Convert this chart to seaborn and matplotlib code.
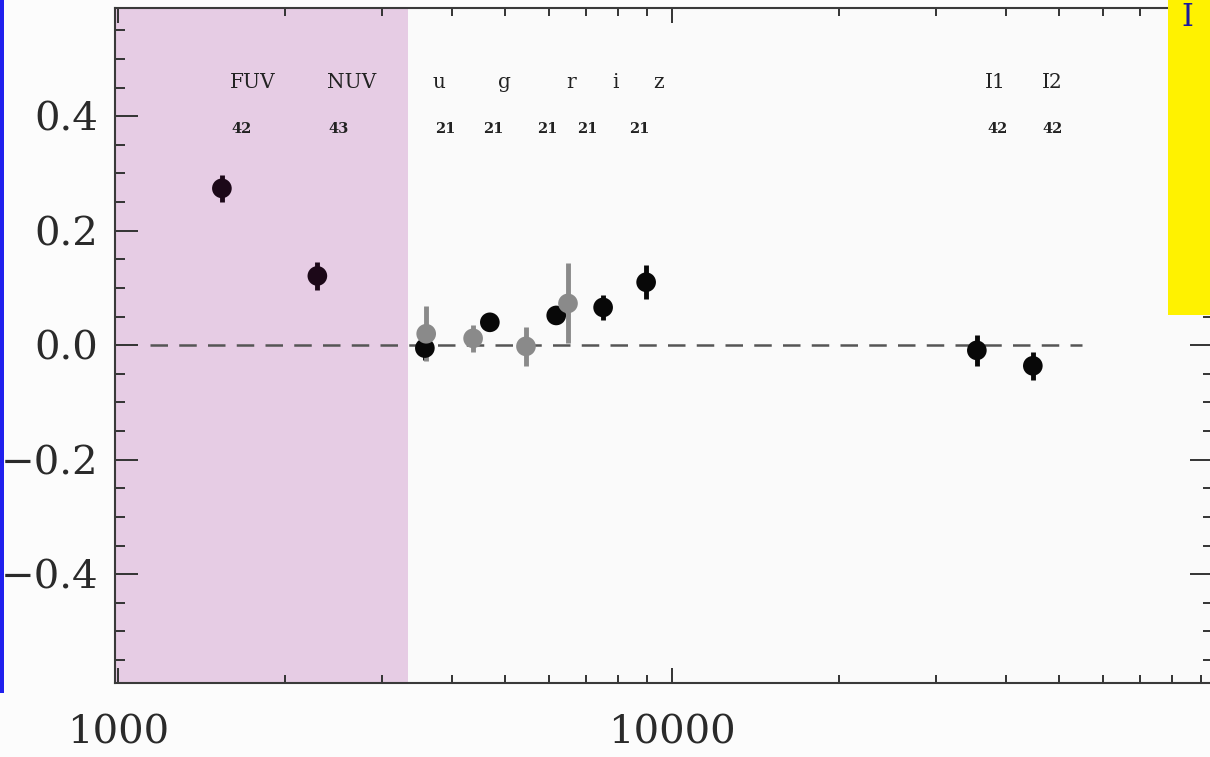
import numpy as np
import pandas as pd
import matplotlib
matplotlib.use("Agg")
import matplotlib.pyplot as plt
import seaborn as sns
from matplotlib.patches import Rectangle
from matplotlib.ticker import LogLocator, FuncFormatter, MultipleLocator

# ── data ────────────────────────────────────────────────────
black_bands = ["FUV", "NUV", "u", "g", "r", "i", "z", "I1", "I2"]
black_wave = [1540, 2290, 3580, 4690, 6180, 7510, 8980, 35500, 44800]
black_off = [0.274, 0.121, -0.005, 0.040, 0.052, 0.066, 0.110, -0.009, -0.036]
black_err = [0.023, 0.025, 0.020, 0.010, 0.015, 0.022, 0.030, 0.027, 0.025]

gray_bands = ["U", "B", "V", "R"]
gray_wave = [3600, 4375, 5450, 6490]
gray_off = [0.020, 0.012, -0.002, 0.073]
gray_err = [0.048, 0.024, 0.034, 0.070]

# band names and number of objects, left edge of each text in wavelength
label_text = ["FUV", "NUV", "u", "g", "r", "i", "z", "I1", "I2"]
label_wave = [1593, 2384, 3703, 4852, 6436, 7794, 9242, 36730, 46560]
count_text = ["42", "43", "21", "21", "21", "21", "21", "42", "42"]
count_wave = [1600, 2394, 3733, 4560, 5705, 6738, 8356, 37040, 46720]

uv_limit = 3340

df = pd.DataFrame({
    "band": black_bands + gray_bands,
    "wave": black_wave + gray_wave,
    "offset": black_off + gray_off,
    "err": black_err + gray_err,
    "set": ["uv"] * 2 + ["black"] * 7 + ["gray"] * 4,
})
colors = {"uv": "#1c0818", "black": "#080808", "gray": "#8a8a8a"}

# ── figure ──────────────────────────────────────────────────
sns.set_style("ticks")
plt.rcParams["font.family"] = ["DejaVu Serif"]

fig = plt.figure(figsize=(12.1, 7.57), dpi=100, facecolor="#fcfcfc")
ax = fig.add_axes([115 / 1210, 1 - 683 / 757, 1098 / 1210, 675 / 757])
ax.set_facecolor("#fafafa")

ax.axvspan(900, uv_limit, color="#e6cce4", lw=0, zorder=0)
ax.hlines(0, 1140, 55000, colors="#555555", lw=1.8,
          linestyles=(0, (7, 4.5)), zorder=1)

for s, sub in df.groupby("set"):
    ax.errorbar(sub["wave"], sub["offset"], yerr=sub["err"], fmt="none",
                ecolor=colors[s], elinewidth=3.5, capsize=0, zorder=2)
sns.scatterplot(data=df, x="wave", y="offset", hue="set", palette=colors,
                s=200, edgecolor="none", legend=False, ax=ax, zorder=3)

for t, w in zip(label_text, label_wave):
    ax.text(w, 0.459, t, ha="left", va="center", fontsize=14.5,
            color="#222222")
for t, w in zip(count_text, count_wave):
    ax.text(w, 0.377, t, ha="left", va="center", fontsize=10.5,
            fontweight="bold", color="#222222")

ax.set_xscale("log")
ax.set_xlim(987.6, 94730)
ax.set_ylim(-0.59, 0.589)
ax.set_xlabel("")
ax.set_ylabel("")

ax.xaxis.set_major_locator(LogLocator(base=10))
ax.xaxis.set_minor_locator(LogLocator(base=10, subs=np.arange(2, 10)))
ax.xaxis.set_major_formatter(FuncFormatter(lambda v, p: f"{v:.0f}"))
ax.xaxis.set_minor_formatter(FuncFormatter(lambda v, p: ""))
ax.yaxis.set_major_locator(MultipleLocator(0.2))
ax.yaxis.set_minor_locator(MultipleLocator(0.05))
ax.yaxis.set_major_formatter(FuncFormatter(lambda v, p: f"{v:.1f}".replace("-", "\u2212")))

ax.tick_params(which="both", direction="in", top=True, right=True,
               color="#333333", width=1.4, labelsize=29, labelcolor="#2a2a2a")
ax.tick_params(axis="y", which="major", length=16.5, pad=12)
ax.tick_params(axis="y", which="minor", length=7)
ax.tick_params(axis="x", which="major", length=11, pad=23)
ax.tick_params(axis="x", which="minor", length=6)
for sp in ax.spines.values():
    sp.set_color("#3a3a3a")
    sp.set_linewidth(1.5)

# stray bits of the surrounding slide
fig.add_artist(Rectangle((0, 1 - 693 / 757), 4 / 1210, 693 / 757,
                         transform=fig.transFigure, color="#2020ee",
                         lw=0, zorder=10))
fig.add_artist(Rectangle((1168 / 1210, 1 - 315 / 757), 50 / 1210, 315 / 757,
                         transform=fig.transFigure, color="#fff200",
                         lw=0, zorder=10))
fig.text(1187 / 1210, 0.998, "I", fontsize=22, color="#1a1aa0",
         ha="center", va="top", zorder=11)

fig.savefig("out.png", dpi=100, facecolor=fig.get_facecolor())
